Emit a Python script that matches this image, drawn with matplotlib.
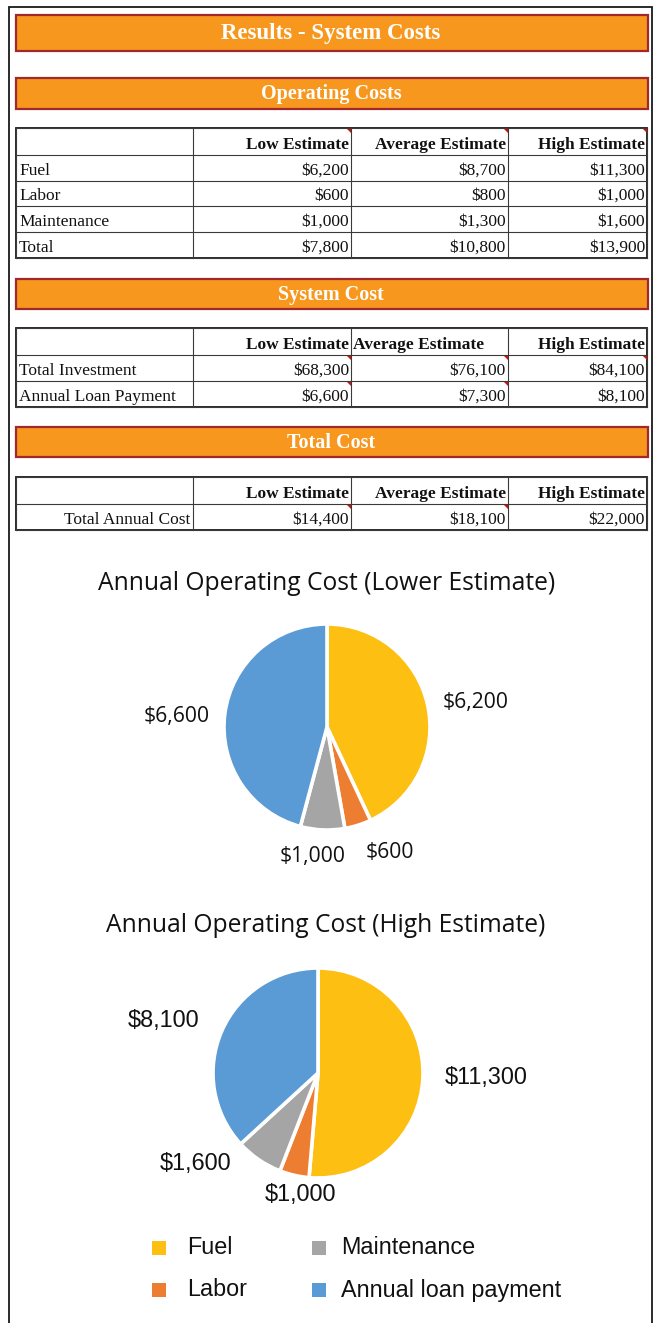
import matplotlib
matplotlib.use('Agg')
import matplotlib.pyplot as plt
from matplotlib.patches import Rectangle, Polygon
import numpy as np

# ---------------- data ----------------
categories = ['Fuel', 'Labor', 'Maintenance', 'Annual loan payment']
low_values = [6200, 600, 1000, 6600]
high_values = [11300, 1000, 1600, 8100]
cat_colors = ['#FDBF12', '#ED7D31', '#A5A5A5', '#5B9BD5']

est_cols = ['Low Estimate', 'Average Estimate', 'High Estimate']

op_rows = ['Fuel', 'Labor', 'Maintenance', 'Total']
op_low = [6200, 600, 1000, 7800]
op_avg = [8700, 800, 1300, 10800]
op_high = [11300, 1000, 1600, 13900]

sys_rows = ['Total Investment', 'Annual Loan Payment']
sys_low = [68300, 6600]
sys_avg = [76100, 7300]
sys_high = [84100, 8100]

tot_rows = ['Total Annual Cost']
tot_low = [14400]
tot_avg = [18100]
tot_high = [22000]

# ---------------- figure ----------------
W, H = 657, 1323
fig = plt.figure(figsize=(W / 100, H / 100), dpi=100)
fig.patch.set_facecolor('white')
ax = fig.add_axes([0, 0, 1, 1])
ax.set_xlim(0, W)
ax.set_ylim(H, 0)
ax.axis('off')

# outer frame
ax.plot([9, 9, 652, 652], [1340, 7, 7, 1340], color='#1a1a1a', lw=1.3, solid_joinstyle='miter')

ORANGE = '#F7971E'
DARKRED = '#A2282C'
SERIF = 'Liberation Serif'


def banner(y0, y1, text, size):
    ax.add_patch(Rectangle((16, y0), 632, y1 - y0, facecolor=ORANGE,
                           edgecolor=DARKRED, lw=1.6))
    ax.text(331, (y0 + y1) / 2 + 1, text, ha='center', va='center', color='white',
            fontsize=size, fontweight='bold', family=SERIF)


col_x = [16, 193, 351, 508, 647]


def draw_table(top, heights, rows, values, header_align=('right', 'right', 'right'),
               label_align='left', marks=()):
    ys = [top]
    for h in heights:
        ys.append(ys[-1] + h)
    lc = '#3a3a3a'
    for y in ys:
        ax.plot([col_x[0], col_x[-1]], [y, y], color=lc, lw=0.8)
    for x in col_x:
        ax.plot([x, x], [ys[0], ys[-1]], color=lc, lw=0.8)
    ax.add_patch(Rectangle((col_x[0], ys[0]), col_x[-1] - col_x[0], ys[-1] - ys[0],
                           fill=False, edgecolor='#1a1a1a', lw=1.3))
    # header
    for j, name in enumerate(est_cols):
        if header_align[j] == 'right':
            x = col_x[j + 2] - 2
        else:
            x = col_x[j + 1] + 2
        ax.text(x, ys[1] - 6, name, ha=header_align[j], va='baseline',
                fontsize=12.5, fontweight='bold', family=SERIF, color='#111111')
    # body
    for i, rname in enumerate(rows):
        yb = ys[i + 2] - 6
        if label_align == 'left':
            ax.text(col_x[0] + 3, yb, rname, ha='left', va='baseline', fontsize=12.5,
                    family=SERIF, color='#111111')
        else:
            ax.text(col_x[1] - 3, yb, rname, ha='right', va='baseline', fontsize=12.5,
                    family=SERIF, color='#111111')
        for j, vals in enumerate(values):
            ax.text(col_x[j + 2] - 2, yb, f'${vals[i]:,}', ha='right', va='baseline',
                    fontsize=12.5, family=SERIF, color='#111111')
    # small red comment markers in cell corners
    for (r, c) in marks:
        xr = col_x[c + 1]
        yt = ys[r]
        ax.add_patch(Polygon([[xr - 5, yt], [xr, yt], [xr, yt + 5]], closed=True,
                             facecolor='#D01010', edgecolor='none'))


banner(15, 51, 'Results - System Costs', 16.5)
banner(78, 109, 'Operating Costs', 14.5)
draw_table(128, [27, 26, 25, 26, 26], op_rows, [op_low, op_avg, op_high],
           marks=[(0, 1), (0, 2), (0, 3)])

banner(279, 309, 'System Cost', 14.5)
draw_table(328, [27, 26, 26], sys_rows, [sys_low, sys_avg, sys_high],
           header_align=('right', 'left', 'right'),
           marks=[(1, 1), (1, 2), (1, 3), (2, 1), (2, 2)])

banner(427, 457, 'Total Cost', 14.5)
draw_table(477, [27, 26], tot_rows, [tot_low, tot_avg, tot_high],
           label_align='right', marks=[(1, 1), (1, 2)])

# ---------------- pies ----------------
TITLE_FONT = 'Open Sans'


def pie_axes(cx, cy, R):
    side = 2.5 * R
    return fig.add_axes([(cx - side / 2) / W, 1 - (cy + side / 2) / H, side / W, side / H])


ax.text(327, 584, 'Annual Operating Cost (Lower Estimate)', ha='center', va='center',
        fontsize=17.7, family=TITLE_FONT, color='#111111')
ax1 = pie_axes(327, 727, 103)
w1, _ = ax1.pie(low_values, colors=cat_colors, startangle=90, counterclock=False,
                wedgeprops=dict(edgecolor='white', linewidth=2.6))
dist1 = [1.46, 1.36, 1.27, 1.46]
nudge1 = [-3, 9, -4, 3.5]
for w, v, d, n in zip(w1, low_values, dist1, nudge1):
    a = np.deg2rad((w.theta1 + w.theta2) / 2 + n)
    ax1.text(d * np.cos(a), d * np.sin(a), f'${v:,}', ha='center', va='center',
             fontsize=15.2, family=TITLE_FONT, color='#111111')

ax.text(326, 925, 'Annual Operating Cost (High Estimate)', ha='center', va='center',
        fontsize=17.7, family=TITLE_FONT, color='#111111')
ax2 = pie_axes(318, 1073, 105)
w2, _ = ax2.pie(high_values, colors=cat_colors, startangle=90, counterclock=False,
                wedgeprops=dict(edgecolor='white', linewidth=2.6))
dist2 = [1.6, 1.17, 1.45, 1.55]
nudge2 = [1, 5, -19, 5]
for w, v, d, n in zip(w2, high_values, dist2, nudge2):
    a = np.deg2rad((w.theta1 + w.theta2) / 2 + n)
    ax2.text(d * np.cos(a), d * np.sin(a), f'${v:,}', ha='center', va='center',
             fontsize=16.9, family='Liberation Sans', color='#111111')

# ---------------- legend ----------------
sq_x = [152, 312]
txt_x = [187, 341]
row_y = [1248, 1290]
for i, (cat, col) in enumerate(zip(categories, cat_colors)):
    c, r = i // 2, i % 2
    ax.add_patch(Rectangle((sq_x[c], row_y[r] - 7), 14, 14, facecolor=col, edgecolor='none'))
    ax.text(txt_x[c], row_y[r], cat, ha='left', va='center', fontsize=16.8,
            family='Liberation Sans', color='#111111')

fig.savefig('out.png', dpi=100, facecolor='white')
